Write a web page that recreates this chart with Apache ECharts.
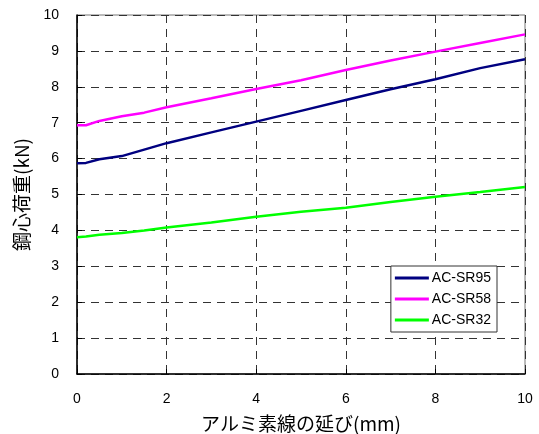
<!DOCTYPE html>
<html>
<head>
<meta charset="utf-8">
<script src="https://cdn.jsdelivr.net/npm/echarts@6/dist/echarts.min.js"></script>
<style>html,body{margin:0;padding:0;background:#fff;}#c{width:539px;height:434px;}</style>
</head>
<body>
<div id="c"></div>
<script>
const xValues = [0, 0.2, 0.5, 1, 1.5, 2, 3, 4, 5, 6, 7, 8, 9, 10];
const sr95 = [5.87, 5.88, 5.98, 6.07, 6.25, 6.43, 6.73, 7.03, 7.33, 7.63, 7.93, 8.21, 8.52, 8.77];
const sr58 = [6.93, 6.93, 7.05, 7.18, 7.28, 7.43, 7.68, 7.94, 8.18, 8.47, 8.73, 8.98, 9.22, 9.46];
const sr32 = [3.81, 3.83, 3.88, 3.93, 4.00, 4.08, 4.22, 4.38, 4.52, 4.63, 4.79, 4.94, 5.07, 5.21];
const seriesNames = ['AC-SR95', 'AC-SR58', 'AC-SR32'];
const seriesColors = ['#000080', '#ff00ff', '#00ff00'];
const xTicks = [0, 2, 4, 6, 8, 10];
const yTicks = [0, 1, 2, 3, 4, 5, 6, 7, 8, 9, 10];

const font = 'Liberation Sans, Arial, sans-serif';
const cjk = '"Noto Sans CJK JP", sans-serif';
const pair = (arr) => xValues.map((x, i) => [x, arr[i]]);
const dataSets = [sr95, sr58, sr32];

const chart = echarts.init(document.getElementById('c'), null, {renderer: 'canvas'});
chart.setOption({
  animation: false,
  backgroundColor: '#fff',
  grid: {left: 77, right: 14, top: 15, bottom: 60, containLabel: false, outerBoundsMode: 'none',
    show: true, borderColor: '#777', borderWidth: 1},
  legend: {
    right: 42, top: 266, orient: 'vertical',
    backgroundColor: '#fff', borderColor: '#333', borderWidth: 1,
    padding: [5, 6, 5, 4], itemGap: 7,
    itemWidth: 34, itemHeight: 15,
    icon: 'path://M0,6L34,6L34,9L0,9Z',
    textStyle: {fontFamily: font, fontSize: 14, color: '#000', padding: [0, 0, 0, -2]},
    data: seriesNames.map((n, i) => ({name: n, itemStyle: {color: seriesColors[i]}}))
  },
  xAxis: {
    type: 'value', min: 0, max: 10, interval: 2,
    name: 'アルミ素線の延び(mm)', nameLocation: 'middle', nameGap: 40,
    nameTextStyle: {fontFamily: cjk, fontSize: 19, color: '#000'},
    axisLine: {show: true, onZero: false, lineStyle: {color: '#000', width: 1.5}},
    axisTick: {show: true, inside: true, length: 5, lineStyle: {color: '#000'}},
    axisLabel: {fontFamily: font, fontSize: 14, color: '#000', margin: 18,
      formatter: v => xTicks.includes(v) ? String(v) : ''},
    splitLine: {show: true, lineStyle: {color: '#333', type: [8, 6], width: 1}}
  },
  yAxis: {
    type: 'value', min: 0, max: 10, interval: 1,
    name: '鋼心荷重(kN)', nameLocation: 'middle', nameGap: 46,
    nameTextStyle: {fontFamily: cjk, fontSize: 19, color: '#000'},
    axisLine: {show: true, onZero: false, lineStyle: {color: '#000', width: 1.5}},
    axisTick: {show: true, inside: true, length: 5, lineStyle: {color: '#000'}},
    axisLabel: {fontFamily: font, fontSize: 14, color: '#000', margin: 18,
      formatter: v => yTicks.includes(v) ? String(v) : ''},
    splitLine: {show: true, lineStyle: {color: '#333', type: [8, 6], width: 1}}
  },
  series: seriesNames.map((n, i) => ({
    name: n, type: 'line', data: pair(dataSets[i]),
    symbol: 'none', smooth: false,
    lineStyle: {color: seriesColors[i], width: 2.5},
    itemStyle: {color: seriesColors[i]}
  }))
});
</script>
</body>
</html>
